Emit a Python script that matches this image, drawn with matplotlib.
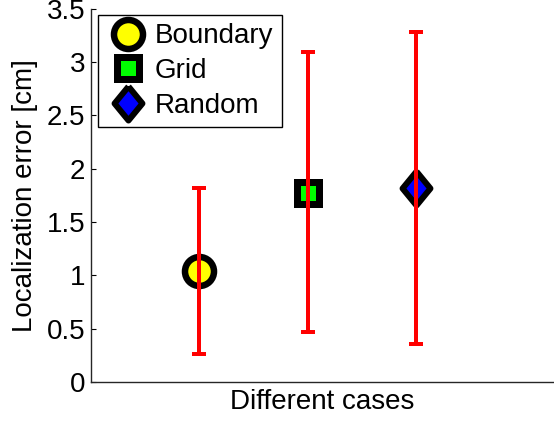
import matplotlib
matplotlib.use("Agg")
import matplotlib.pyplot as plt
from matplotlib.markers import MarkerStyle

plt.rcParams['font.family'] = ['Liberation Sans', 'DejaVu Sans']

# localization error per deployment case
cases = ["Boundary", "Grid", "Random"]
positions = [1, 2, 3]
mean_err = [1.04, 1.77, 1.82]
low_err = [0.26, 0.47, 0.36]
high_err = [1.82, 3.09, 3.28]

y_ticks = [0, 0.5, 1, 1.5, 2, 2.5, 3, 3.5]
y_tick_labels = ["0", "0.5", "1", "1.5", "2", "2.5", "3", "3.5"]

px = 72 / 100.0  # points per pixel at 100 dpi

fig = plt.figure(figsize=(5.54, 4.21), dpi=100)
ax = fig.add_axes([0.164, 0.0926, 0.836, 0.887])

diamond = MarkerStyle([(0, 1), (0.82, 0), (0, -1), (-0.82, 0), (0, 1)], joinstyle='miter')
styles = [
    dict(marker='o', ms=29 * px, mew=6.5 * px, mfc='yellow'),
    dict(marker='s', ms=23 * px, mew=7 * px, mfc=(0, 1, 0)),
    dict(marker=diamond, ms=34 * px, mew=6 * px, mfc='blue'),
]

handles = []
for x, m, name, st in zip(positions, mean_err, cases, styles):
    h, = ax.plot([x], [m], linestyle='none', mec='black', label=name, zorder=2, **st)
    handles.append(h)

lower = [m - lo for m, lo in zip(mean_err, low_err)]
upper = [hi - m for m, hi in zip(mean_err, high_err)]
ax.errorbar(positions, mean_err, yerr=[lower, upper], fmt='none', ecolor='red',
            elinewidth=4 * px, capsize=7 * px, capthick=4 * px, zorder=3)

ax.set_xlim(0, 4.27)
ax.set_ylim(0, 3.5)
ax.set_yticks(y_ticks)
ax.set_yticklabels(y_tick_labels)
ax.set_xticks([])
ax.tick_params(axis='y', direction='in', length=5 * px, width=0.8, labelsize=20, pad=4)

for side in ['top', 'right']:
    ax.spines[side].set_visible(False)
for side in ['left', 'bottom']:
    ax.spines[side].set_color('#262626')
    ax.spines[side].set_linewidth(1.0)

ax.set_ylabel("Localization error [cm]", fontsize=20, labelpad=6)
ax.set_xlabel("Different cases", fontsize=20, labelpad=5)

leg = ax.legend(handles=handles, loc='upper left', bbox_to_anchor=(0.015, 0.983),
                borderaxespad=0, fontsize=20, fancybox=False, edgecolor='black',
                framealpha=1, handlelength=1.55, handletextpad=0.2, labelspacing=0.32,
                borderpad=0.3, numpoints=1)
leg.get_frame().set_linewidth(1.0)

fig.savefig("out.png", dpi=100)
